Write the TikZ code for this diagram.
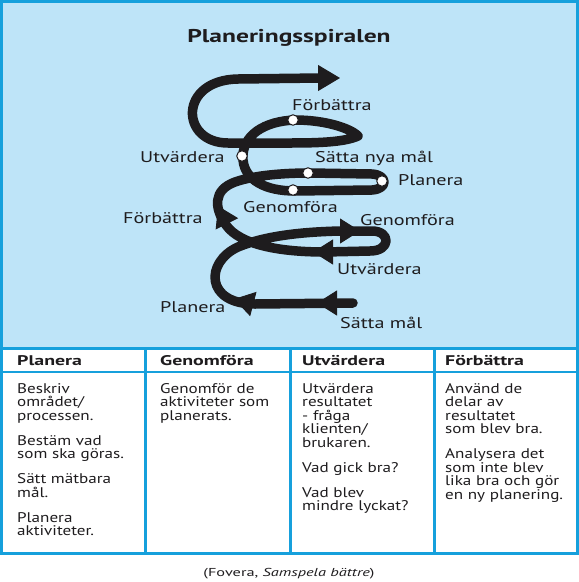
\documentclass[tikz,border=0pt]{standalone}
\usepackage{fontspec}
\setmainfont{PT Sans}
\newfontfamily\labelfont{PT Sans}[FakeStretch=1.3]
\newfontfamily\bodyfont{PT Sans}[FakeStretch=1.22]
\newfontfamily\headfont{PT Sans}[FakeStretch=1.42]
\newfontfamily\titlefont{PT Sans}[FakeStretch=1.38]
\newfontfamily\capfont{PT Sans}[FakeStretch=1.42]
\usetikzlibrary{arrows.meta}
\definecolor{panelblue}{RGB}{190,228,248}
\definecolor{lineblue}{RGB}{22,160,220}
\definecolor{ink}{RGB}{30,28,30}
\begin{document}
\begin{tikzpicture}[x=1pt,y=-1pt,
  spiral/.style={draw=ink, line width=9.5pt, line cap=round, line join=round},
  tipseg/.style={draw=ink, line width=1pt, -{Triangle[width=25pt,length=20pt]}, ink},
  dot/.style={circle, fill=white, draw=ink, line width=1pt, minimum size=10.5pt, inner sep=0pt},
  lbl/.style={font=\labelfont\fontsize{15.5}{18}\selectfont, anchor=west, inner sep=0pt, text=ink},
  head/.style={font=\headfont\bfseries\fontsize{14}{16}\selectfont, anchor=west, inner sep=0pt, text=ink},
  body/.style={font=\bodyfont\fontsize{14}{13.5}\selectfont, anchor=north west, inner sep=0pt, text=ink, text width=135pt, align=left},
  grid/.style={draw=lineblue, line width=3pt}
]
\useasboundingbox (0,0) rectangle (579,582);
\fill[white] (0,0) rectangle (579,582);
\fill[panelblue] (0,0) rectangle (577,348);
% frame and table
\draw[grid] (1.5,1.5) rectangle (577,553);
\draw[grid] (1.5,348) -- (577,348);
\draw[grid, line width=2pt] (1.5,371.5) -- (577,371.5);
\draw[grid] (145,348) -- (145,553);
\draw[grid] (290,348) -- (290,553);
\draw[grid] (434,348) -- (434,553);

% title
\node[font=\titlefont\bfseries\fontsize{18.5}{22}\selectfont, text=ink, inner sep=0pt] (title) at (289,38) {Planeringsspiralen};

% spiral
\path[spiral] (353,303) -- (255,304)
  .. controls (205,304) and (205,262) .. (238,247)
  .. controls (265,236) and (300,232) .. (340,231)
  -- (372,231)
  .. controls (391,231) and (391,251) .. (370,251)
  -- (325,252)
  .. controls (280,252) and (240,245) .. (226,225)
  .. controls (214,208) and (213,190) .. (235,182)
  .. controls (255,175) and (285,173) .. (310,173)
  -- (372,174)
  .. controls (388,175) and (388,189) .. (372,190)
  -- (295,191)
  .. controls (265,191) and (245,180) .. (243,160)
  .. controls (241,135) and (265,121) .. (295,120)
  .. controls (325,120) and (350,128) .. (358,136)
  .. controls (345,142) and (320,143) .. (290,143)
  -- (228,143)
  .. controls (180,143) and (178,80) .. (238,79)
  -- (320,78);
\coordinate (topfrom) at (318,78);
\coordinate (topto) at (340,78);
\draw[tipseg, -{Triangle[width=26pt,length=22pt]}] (topfrom) -- (topto);

% mid-path arrowheads
\coordinate (a1f) at (340,303); \coordinate (a1t) at (317,303);
\coordinate (a2f) at (257,305); \coordinate (a2t) at (234,299);
\coordinate (a3f) at (338,231); \coordinate (a3t) at (360,231);
\coordinate (a4f) at (335,252); \coordinate (a4t) at (313,252);
\coordinate (a5f) at (228,226); \coordinate (a5t) at (218,206);
\draw[tipseg] (a1f) -- (a1t);
\draw[tipseg] (a2f) -- (a2t);
\draw[tipseg] (a3f) -- (a3t);
\draw[tipseg] (a4f) -- (a4t);
\draw[tipseg] (a5f) -- (a5t);

% dots
\node[dot] (dF) at (293,120) {};
\node[dot] (dU) at (242,156) {};
\node[dot] (dS) at (308,173) {};
\node[dot] (dP) at (382,181) {};
\node[dot] (dG) at (293,190) {};

% labels
\node[lbl] (lF1) at (292,105) {Förbättra};
\node[lbl] (lU1) at (140,157) {Utvärdera};
\node[lbl] (lS1) at (315,158) {Sätta nya mål};
\node[lbl] (lP1) at (398,180) {Planera};
\node[lbl] (lG1) at (243,207) {Genomföra};
\node[lbl] (lF2) at (123,218) {Förbättra};
\node[lbl] (lG2) at (360,220) {Genomföra};
\node[lbl] (lU2) at (337,269) {Utvärdera};
\node[lbl] (lP2) at (160,307) {Planera};
\node[lbl] (lS2) at (340,323) {Sätta mål};

% table headers
\node[head] (h1) at (17,361) {Planera};
\node[head] (h2) at (160,361) {Genomföra};
\node[head] (h3) at (302,361) {Utvärdera};
\node[head] (h4) at (445,361) {Förbättra};

% table bodies
\node[body] (b1) at (17,383) {Beskriv\\området/\\processen.\\[11.5pt]Bestäm vad\\som ska göras.\\[11.5pt]Sätt mätbara\\mål.\\[11.5pt]Planera\\aktiviteter.};
\node[body] (b2) at (160,383) {Genomför de\\aktiviteter som\\planerats.};
\node[body] (b3) at (302,383) {Utvärdera\\resultatet\\- fråga\\klienten/\\brukaren.\\[11.5pt]Vad gick bra?\\[11.5pt]Vad blev\\mindre lyckat?};
\node[body] (b4) at (445,383) {Använd de\\delar av\\resultatet\\som blev bra.\\[11.5pt]Analysera det\\som inte blev\\lika bra och gör\\en ny planering.};

% caption
\node[font=\capfont\fontsize{11.5}{13}\selectfont, text=ink, inner sep=0pt] (cap) at (289,574) {(Fovera, \textit{Samspela bättre})};
\end{tikzpicture}
\end{document}
